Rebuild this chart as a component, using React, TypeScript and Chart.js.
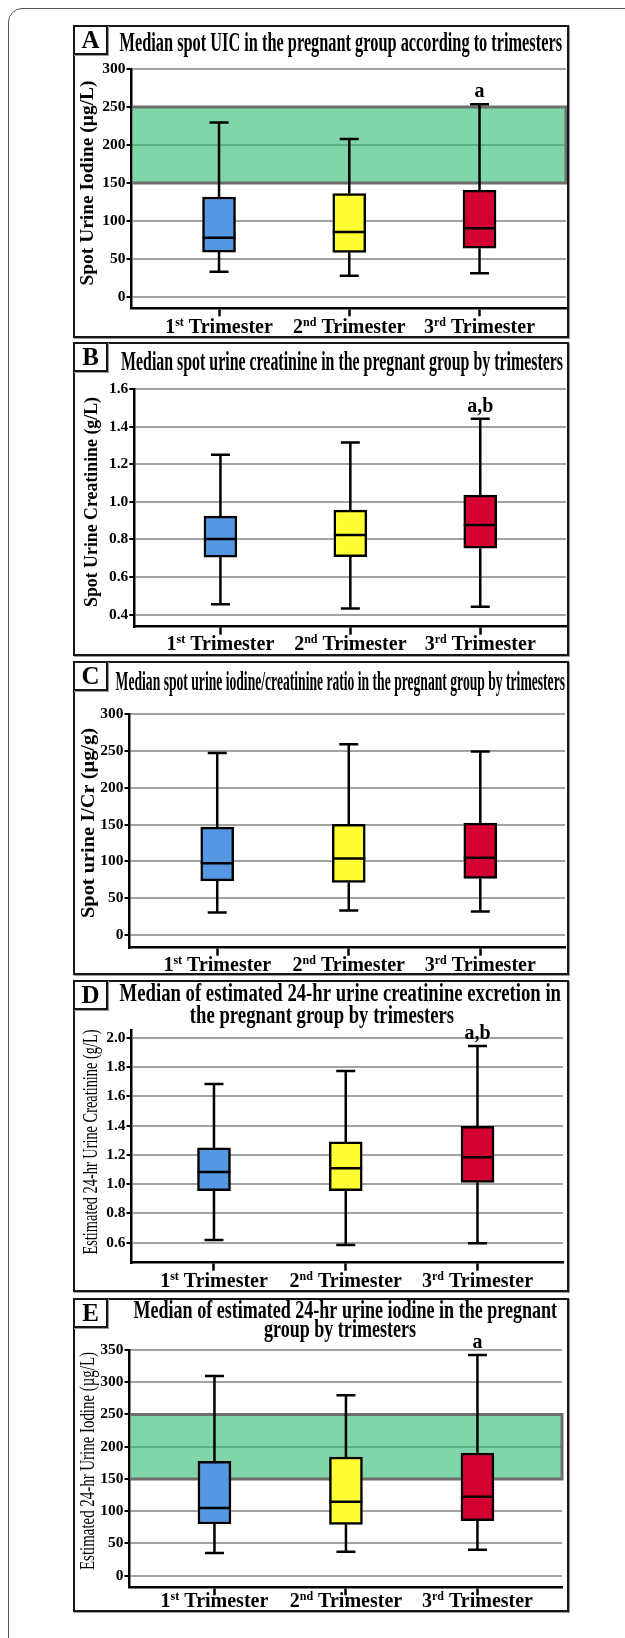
import React, { useEffect, useRef } from 'react';
import { Chart, registerables } from 'chart.js';

Chart.register(...registerables);

const SERIF = '"Liberation Serif", "Times New Roman", "DejaVu Serif", serif';

// ---- categories ----
const categoryPositions = [1, 2, 3];
const trimesterNumbers = ['1', '2', '3'];
const trimesterSuffixes = ['st', 'nd', 'rd'];
const trimesterWord = 'Trimester';
const boxColors = ['#5597e3', '#ffff33', '#d50032'];

// ---- reference range (adequate iodine, µg/L) ----
const referenceRange = [150, 250];

// ---- A: spot urine iodine (µg/L) ----
const uicTicks = [0, 50, 100, 150, 200, 250, 300];
const uicMin = [33, 28, 31];
const uicQ1 = [59, 58.5, 64];
const uicMedian = [78, 85.5, 90.5];
const uicQ3 = [131.5, 136, 140.5];
const uicMax = [229.5, 208, 253.5];
const uicSig = ['', '', 'a'];

// ---- B: spot urine creatinine (g/L) ----
const crTicks = [0.4, 0.6, 0.8, 1.0, 1.2, 1.4, 1.6];
const crMin = [0.455, 0.433, 0.442];
const crQ1 = [0.706, 0.708, 0.753];
const crMedian = [0.802, 0.823, 0.877];
const crQ3 = [0.924, 0.956, 1.036];
const crMax = [1.251, 1.316, 1.442];
const crSig = ['', '', 'a,b'];

// ---- C: spot urine iodine/creatinine (µg/g) ----
const icrTicks = [0, 50, 100, 150, 200, 250, 300];
const icrMin = [30.8, 33.5, 32.2];
const icrQ1 = [73.7, 71.5, 77];
const icrMedian = [97.7, 104.1, 105];
const icrQ3 = [146.6, 150.3, 152];
const icrMax = [247, 259, 249];
const icrSig = ['', '', ''];

// ---- D: estimated 24-hr urine creatinine (g/L) ----
const cr24Ticks = [0.6, 0.8, 1.0, 1.2, 1.4, 1.6, 1.8, 2.0];
const cr24Min = [0.618, 0.584, 0.596];
const cr24Q1 = [0.955, 0.955, 1.012];
const cr24Median = [1.083, 1.108, 1.183];
const cr24Q3 = [1.247, 1.288, 1.395];
const cr24Max = [1.684, 1.773, 1.943];
const cr24Sig = ['', '', 'a,b'];

// ---- E: estimated 24-hr urine iodine (µg/L) ----
const ui24Ticks = [0, 50, 100, 150, 200, 250, 300, 350];
const ui24Min = [35.2, 37.2, 40.3];
const ui24Q1 = [80.2, 79.7, 85.3];
const ui24Median = [105, 114.8, 122.5];
const ui24Q3 = [177.4, 184, 190.3];
const ui24Max = [309.7, 279.8, 342.3];
const ui24Sig = ['', '', 'a'];

const PANEL_LEFT = 73;
const PANEL_WIDTH = 496;
const PANEL_BORDER = 2;

type PanelCfg = any;

const panels: PanelCfg[] = [
  {
    letter: 'A', top: 25, height: 313,
    titleLines: ['Median spot UIC in the pregnant group according to trimesters'],
    titleFont: 28, titleLeft: 119.6, titleRight: 562, titleBaselines: [51], titleCenters: [0],
    yTitle: 'Spot Urine Iodine (µg/L)', yTitleBold: true, yTitleFont: 19, yTitleX: 88, yTitleY: 183, yTitleLen: 205,
    plot: { l: 131.5, r: 566, t: 69, b: 308.3 }, yMin: -15, yMax: 300, yTicks: uicTicks, decimals: 0,
    xMin: 0.328, xMax: 3.664,
    mins: uicMin, q1s: uicQ1, medians: uicMedian, q3s: uicQ3, maxs: uicMax, sig: uicSig,
    band: referenceRange, labelBaseline: 332.5,
  },
  {
    letter: 'B', top: 342, height: 314,
    titleLines: ['Median spot urine creatinine in the pregnant group by trimesters'],
    titleFont: 28, titleLeft: 121, titleRight: 563, titleBaselines: [370], titleCenters: [0],
    yTitle: 'Spot Urine Creatinine (g/L)', yTitleBold: true, yTitleFont: 19, yTitleX: 92, yTitleY: 502, yTitleLen: 210,
    plot: { l: 134.3, r: 566, t: 389, b: 626.7 }, yMin: 0.336, yMax: 1.6, yTicks: crTicks, decimals: 1,
    xMin: 0.337, xMax: 3.66,
    mins: crMin, q1s: crQ1, medians: crMedian, q3s: crQ3, maxs: crMax, sig: crSig,
    band: null, labelBaseline: 650,
  },
  {
    letter: 'C', top: 661, height: 314,
    titleLines: ['Median spot urine iodine/creatinine ratio in the pregnant group by trimesters'],
    titleFont: 28, titleLeft: 115.6, titleRight: 565, titleBaselines: [690], titleCenters: [0],
    yTitle: 'Spot urine I/Cr (µg/g)', yTitleBold: true, yTitleFont: 19, yTitleX: 89, yTitleY: 823, yTitleLen: 190,
    plot: { l: 129.5, r: 565, t: 714, b: 947.7 }, yMin: -17, yMax: 300, yTicks: icrTicks, decimals: 0,
    xMin: 0.333, xMax: 3.644,
    mins: icrMin, q1s: icrQ1, medians: icrMedian, q3s: icrQ3, maxs: icrMax, sig: icrSig,
    band: null, labelBaseline: 971,
  },
  {
    letter: 'D', top: 980, height: 312,
    titleLines: ['Median of estimated 24-hr urine creatinine excretion in', 'the pregnant group by trimesters'],
    titleFont: 25, titleLeft: 119.6, titleRight: 561, titleBaselines: [1001, 1023], titleCenters: [0, 322],
    yTitle: 'Estimated 24-hr Urine Creatinine (g/L)', yTitleBold: false, yTitleFont: 20, yTitleX: 92, yTitleY: 1142, yTitleLen: 225,
    plot: { l: 131.5, r: 563, t: 1030.7, b: 1262.7 }, yMin: 0.463, yMax: 2.048, yTicks: cr24Ticks, decimals: 1,
    xMin: 0.374, xMax: 3.649,
    mins: cr24Min, q1s: cr24Q1, medians: cr24Median, q3s: cr24Q3, maxs: cr24Max, sig: cr24Sig,
    band: null, labelBaseline: 1286.5,
  },
  {
    letter: 'E', top: 1298, height: 314,
    titleLines: ['Median of estimated 24-hr urine iodine in the pregnant', 'group by trimesters'],
    titleFont: 25, titleLeft: 133.5, titleRight: 557, titleBaselines: [1318, 1337], titleCenters: [0, 340],
    yTitle: 'Estimated 24-hr Urine Iodine (µg/L)', yTitleBold: false, yTitleFont: 20, yTitleX: 89, yTitleY: 1461, yTitleLen: 218,
    plot: { l: 129.5, r: 562, t: 1350, b: 1587.3 }, yMin: -18, yMax: 350, yTicks: ui24Ticks, decimals: 0,
    xMin: 0.354, xMax: 3.643,
    mins: ui24Min, q1s: ui24Q1, medians: ui24Median, q3s: ui24Q3, maxs: ui24Max, sig: ui24Sig,
    band: referenceRange, labelBaseline: 1607,
  },
];

function Panel({ cfg }: { cfg: PanelCfg }) {
  const ref = useRef<HTMLCanvasElement>(null);
  const cx = PANEL_LEFT + PANEL_BORDER;
  const cy = cfg.top + PANEL_BORDER;
  const cw = PANEL_WIDTH - 2 * PANEL_BORDER;
  const ch = cfg.height - 2 * PANEL_BORDER;

  useEffect(() => {
    const canvas = ref.current;
    if (!canvas) return;
    const X = (v: number) => v - cx;
    const Y = (v: number) => v - cy;
    const plot = cfg.plot;
    const yAxisWidth = X(plot.l);
    const xAxisHeight = 12;

    const decor = {
      id: 'decor' + cfg.letter,
      beforeDatasetsDraw(chart: any) {
        if (!cfg.band) return;
        const { ctx, chartArea } = chart;
        const ys = chart.scales.y;
        const yTop = ys.getPixelForValue(cfg.band[1]);
        const yBot = ys.getPixelForValue(cfg.band[0]);
        const left = chartArea.left + 1;
        const right = chartArea.right;
        ctx.save();
        ctx.fillStyle = 'rgba(43,187,110,0.6)';
        ctx.fillRect(left, yTop, right - left, yBot - yTop);
        ctx.strokeStyle = '#6e6e6e';
        ctx.lineWidth = 3;
        ctx.beginPath();
        ctx.moveTo(left, yTop);
        ctx.lineTo(right, yTop);
        ctx.lineTo(right, yBot);
        ctx.lineTo(left, yBot);
        ctx.stroke();
        ctx.restore();
      },
      afterDatasetsDraw(chart: any) {
        const { ctx } = chart;
        const xs = chart.scales.x;
        const ys = chart.scales.y;
        const meta = chart.getDatasetMeta(0);
        const cap = 19;
        ctx.save();
        ctx.strokeStyle = '#000';
        ctx.lineWidth = 2.5;
        ctx.lineCap = 'butt';
        categoryPositions.forEach((p, i) => {
          const x = xs.getPixelForValue(p);
          const yMin = ys.getPixelForValue(cfg.mins[i]);
          const yQ1 = ys.getPixelForValue(cfg.q1s[i]);
          const yMed = ys.getPixelForValue(cfg.medians[i]);
          const yQ3 = ys.getPixelForValue(cfg.q3s[i]);
          const yMax = ys.getPixelForValue(cfg.maxs[i]);
          const bw = meta.data[i] ? meta.data[i].width : 33;
          ctx.beginPath();
          ctx.moveTo(x, yQ3); ctx.lineTo(x, yMax);
          ctx.moveTo(x - cap / 2, yMax); ctx.lineTo(x + cap / 2, yMax);
          ctx.moveTo(x, yQ1); ctx.lineTo(x, yMin);
          ctx.moveTo(x - cap / 2, yMin); ctx.lineTo(x + cap / 2, yMin);
          ctx.moveTo(x - bw / 2, yMed); ctx.lineTo(x + bw / 2, yMed);
          ctx.stroke();
          if (cfg.sig[i]) {
            ctx.fillStyle = '#000';
            ctx.font = `bold 20px ${SERIF}`;
            ctx.textAlign = 'center';
            ctx.textBaseline = 'alphabetic';
            ctx.fillText(cfg.sig[i], x, yMax - 7);
          }
        });
        ctx.restore();
      },
      afterDraw(chart: any) {
        const { ctx } = chart;
        const xs = chart.scales.x;
        ctx.save();
        ctx.fillStyle = '#000';
        ctx.textBaseline = 'alphabetic';
        ctx.textAlign = 'left';

        ctx.font = `bold ${cfg.titleFont}px ${SERIF}`;
        const ts = (cfg.titleRight - cfg.titleLeft) / ctx.measureText(cfg.titleLines[0]).width;
        cfg.titleLines.forEach((line: string, i: number) => {
          const w = ctx.measureText(line).width * ts;
          const left = i === 0 ? X(cfg.titleLeft) : X(cfg.titleCenters[i]) - w / 2;
          ctx.save();
          ctx.translate(left, Y(cfg.titleBaselines[i]));
          ctx.scale(ts, 1);
          ctx.fillText(line, 0, 0);
          ctx.restore();
        });

        ctx.font = `${cfg.yTitleBold ? 'bold ' : ''}${cfg.yTitleFont}px ${SERIF}`;
        const ys2 = cfg.yTitleLen / ctx.measureText(cfg.yTitle).width;
        ctx.save();
        ctx.translate(X(cfg.yTitleX), Y(cfg.yTitleY));
        ctx.rotate(-Math.PI / 2);
        ctx.scale(ys2, 1);
        ctx.textAlign = 'center';
        ctx.textBaseline = 'middle';
        ctx.fillText(cfg.yTitle, 0, 0);
        ctx.restore();

        const big = `bold 20px ${SERIF}`;
        const small = `bold 12px ${SERIF}`;
        categoryPositions.forEach((p, i) => {
          const x = xs.getPixelForValue(p);
          ctx.font = big;
          const wNum = ctx.measureText(trimesterNumbers[i]).width;
          const wWord = ctx.measureText(' ' + trimesterWord).width;
          ctx.font = small;
          const wSup = ctx.measureText(trimesterSuffixes[i]).width;
          let sx = x - (wNum + wSup + wWord) / 2;
          const by = Y(cfg.labelBaseline);
          ctx.font = big;
          ctx.fillText(trimesterNumbers[i], sx, by);
          sx += wNum;
          ctx.font = small;
          ctx.fillText(trimesterSuffixes[i], sx, by - 7);
          sx += wSup;
          ctx.font = big;
          ctx.fillText(' ' + trimesterWord, sx, by);
        });
        ctx.restore();
      },
    };

    const chart = new Chart(canvas, {
      type: 'bar',
      data: {
        datasets: [
          {
            data: categoryPositions.map((x, i) => ({ x, y: [cfg.q1s[i], cfg.q3s[i]] })) as any,
            backgroundColor: boxColors,
            borderColor: '#000',
            borderWidth: 2.5,
            borderSkipped: false,
            barThickness: 33,
          } as any,
        ],
      },
      options: {
        animation: false,
        responsive: false,
        maintainAspectRatio: false,
        devicePixelRatio: 1,
        events: [],
        layout: {
          padding: {
            left: 0,
            top: Y(plot.t),
            right: cw - X(plot.r),
            bottom: ch - Y(plot.b) - xAxisHeight,
          },
        },
        plugins: {
          legend: { display: false },
          title: { display: false },
          tooltip: { enabled: false },
        },
        scales: {
          x: {
            type: 'linear',
            min: cfg.xMin,
            max: cfg.xMax,
            offset: false,
            afterBuildTicks: (s: any) => {
              s.ticks = categoryPositions.map((v) => ({ value: v }));
            },
            afterFit: (s: any) => {
              s.height = xAxisHeight;
            },
            grid: {
              display: true,
              offset: false,
              drawOnChartArea: false,
              drawTicks: true,
              tickLength: 8,
              tickColor: '#000',
              tickWidth: 2.5,
            },
            border: { display: true, color: '#000', width: 2.5 },
            ticks: { display: false },
          },
          y: {
            type: 'linear',
            min: cfg.yMin,
            max: cfg.yMax,
            afterBuildTicks: (s: any) => {
              s.ticks = cfg.yTicks.map((v: number) => ({ value: v }));
            },
            afterFit: (s: any) => {
              s.width = yAxisWidth;
            },
            grid: {
              color: '#a3a3a3',
              lineWidth: 2,
              tickColor: '#000',
              tickLength: 5,
              tickWidth: 2,
            },
            border: { display: true, color: '#000', width: 2.5 },
            ticks: {
              color: '#000',
              padding: 1,
              font: { family: SERIF, size: 15.5, weight: 'bold' },
              callback: (v: any) => Number(v).toFixed(cfg.decimals),
            },
          },
        },
      } as any,
      plugins: [decor],
    });
    return () => chart.destroy();
  }, [cfg]);

  return (
    <div
      style={{
        position: 'absolute',
        left: PANEL_LEFT,
        top: cfg.top,
        width: PANEL_WIDTH,
        height: cfg.height,
        boxSizing: 'border-box',
        border: `${PANEL_BORDER}px solid #161616`,
        boxShadow: '1px 1px 0 #9a9a9a',
        background: '#fff',
      }}
    >
      <canvas
        ref={ref}
        width={cw}
        height={ch}
        style={{ position: 'absolute', left: 0, top: 0, width: cw, height: ch }}
      />
      <div
        style={{
          position: 'absolute',
          left: -2,
          top: -2,
          width: 35,
          height: 30,
          boxSizing: 'border-box',
          border: '2px solid #161616',
          boxShadow: '1px 1px 0 #9a9a9a',
          background: '#fff',
          fontFamily: SERIF,
          fontWeight: 'bold',
          fontSize: 25,
          lineHeight: '26px',
          textAlign: 'center',
          color: '#000',
        }}
      >
        {cfg.letter}
      </div>
    </div>
  );
}

export default function App() {
  return (
    <div
      style={{
        position: 'absolute',
        left: 0,
        top: 0,
        width: 625,
        height: 1638,
        overflow: 'hidden',
        background: '#fff',
      }}
    >
      <div
        style={{
          position: 'absolute',
          left: 8,
          top: 8,
          width: 680,
          height: 1700,
          boxSizing: 'border-box',
          border: '1.5px solid #555',
          borderRadius: 14,
        }}
      />
      {panels.map((p) => (
        <Panel key={p.letter} cfg={p} />
      ))}
    </div>
  );
}
